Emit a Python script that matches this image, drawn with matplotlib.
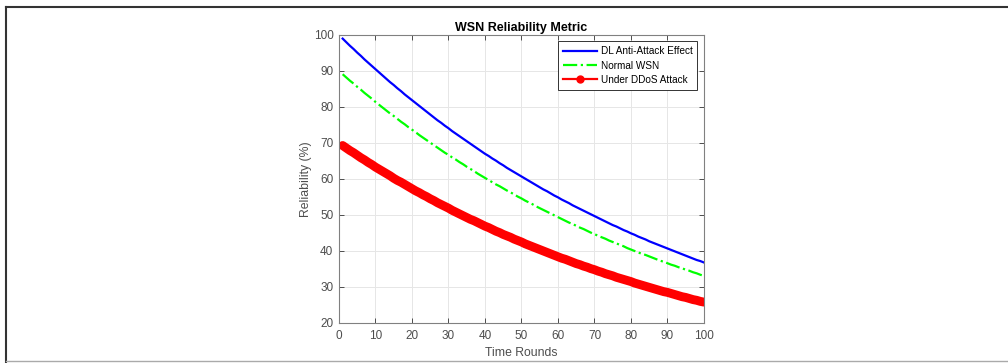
import numpy as np
import matplotlib.pyplot as plt
from matplotlib.lines import Line2D

plt.rcParams['font.family'] = ['Liberation Sans', 'DejaVu Sans']

# time rounds 1..100
rounds = np.arange(1, 101)

dl_anti = [99.0, 98.0, 97.0, 96.1, 95.1, 94.2, 93.2, 92.3, 91.4, 90.5,
           89.6, 88.7, 87.8, 86.9, 86.1, 85.2, 84.4, 83.5, 82.7, 81.9,
           81.1, 80.3, 79.5, 78.7, 77.9, 77.1, 76.3, 75.6, 74.8, 74.1,
           73.3, 72.6, 71.9, 71.2, 70.5, 69.8, 69.1, 68.4, 67.7, 67.0,
           66.4, 65.7, 65.1, 64.4, 63.8, 63.1, 62.5, 61.9, 61.3, 60.7,
           60.1, 59.5, 58.9, 58.3, 57.7, 57.1, 56.6, 56.0, 55.4, 54.9,
           54.3, 53.8, 53.3, 52.7, 52.2, 51.7, 51.2, 50.7, 50.2, 49.7,
           49.2, 48.7, 48.2, 47.7, 47.2, 46.8, 46.3, 45.8, 45.4, 44.9,
           44.5, 44.0, 43.6, 43.2, 42.7, 42.3, 41.9, 41.5, 41.1, 40.7,
           40.3, 39.9, 39.5, 39.1, 38.7, 38.3, 37.9, 37.5, 37.2, 36.8]

normal_wsn = [89.1, 88.2, 87.3, 86.5, 85.6, 84.8, 83.9, 83.1, 82.3, 81.4,
              80.6, 79.8, 79.0, 78.2, 77.5, 76.7, 75.9, 75.2, 74.4, 73.7,
              73.0, 72.2, 71.5, 70.8, 70.1, 69.4, 68.7, 68.0, 67.3, 66.7,
              66.0, 65.4, 64.7, 64.1, 63.4, 62.8, 62.2, 61.5, 60.9, 60.3,
              59.7, 59.1, 58.5, 58.0, 57.4, 56.8, 56.3, 55.7, 55.1, 54.6,
              54.0, 53.5, 53.0, 52.4, 51.9, 51.4, 50.9, 50.4, 49.9, 49.4,
              48.9, 48.4, 47.9, 47.5, 47.0, 46.5, 46.1, 45.6, 45.1, 44.7,
              44.2, 43.8, 43.4, 42.9, 42.5, 42.1, 41.7, 41.3, 40.8, 40.4,
              40.0, 39.6, 39.2, 38.9, 38.5, 38.1, 37.7, 37.3, 37.0, 36.6,
              36.2, 35.9, 35.5, 35.2, 34.8, 34.5, 34.1, 33.8, 33.4, 33.1]

under_ddos = [69.3, 68.6, 67.9, 67.3, 66.6, 65.9, 65.3, 64.6, 64.0, 63.3,
              62.7, 62.1, 61.5, 60.9, 60.2, 59.6, 59.1, 58.5, 57.9, 57.3,
              56.7, 56.2, 55.6, 55.1, 54.5, 54.0, 53.4, 52.9, 52.4, 51.9,
              51.3, 50.8, 50.3, 49.8, 49.3, 48.8, 48.4, 47.9, 47.4, 46.9,
              46.5, 46.0, 45.5, 45.1, 44.6, 44.2, 43.8, 43.3, 42.9, 42.5,
              42.0, 41.6, 41.2, 40.8, 40.4, 40.0, 39.6, 39.2, 38.8, 38.4,
              38.0, 37.7, 37.3, 36.9, 36.5, 36.2, 35.8, 35.5, 35.1, 34.8,
              34.4, 34.1, 33.7, 33.4, 33.1, 32.7, 32.4, 32.1, 31.8, 31.5,
              31.1, 30.8, 30.5, 30.2, 29.9, 29.6, 29.3, 29.0, 28.7, 28.5,
              28.2, 27.9, 27.6, 27.3, 27.1, 26.8, 26.5, 26.3, 26.0, 25.8]

xticks = np.arange(0, 101, 10)
yticks = np.arange(20, 101, 10)

fig = plt.figure(figsize=(10.08, 3.63), dpi=100)
ax = fig.add_axes([0.3363, 0.1102, 0.3621, 0.7934])

ax.plot(rounds, dl_anti, color='#0000ff', lw=1.6, label='DL Anti-Attack Effect')
ax.plot(rounds, normal_wsn, color='#00ff00', lw=1.6, ls='-.', label='Normal WSN')
# dense markers merge into a thick band; draw the band as a wide round-capped line
ax.plot(rounds, under_ddos, color='#ff0000', lw=6.4, solid_capstyle='round',
        solid_joinstyle='round')
ax.plot([], [], color='#ff0000', lw=1.6, marker='o', ms=5,
        label='Under DDoS Attack')

ax.set_xlim(0, 100)
ax.set_ylim(20, 100)
ax.set_xticks(xticks)
ax.set_yticks(yticks)
ax.grid(True, color='#e6e6e6', lw=0.7)
ax.set_axisbelow(True)
ax.tick_params(direction='in', top=True, right=True, length=3.5,
               labelsize=8.5, colors='#4d4d4d', width=0.7)
ax.tick_params(axis='x', pad=5)
ax.tick_params(axis='y', pad=4)
for s in ax.spines.values():
    s.set_color('#808080')
    s.set_linewidth(0.8)

ax.set_title('WSN Reliability Metric', fontsize=9, fontweight='bold', pad=3)
ax.set_xlabel('Time Rounds', fontsize=8.8, color='#4d4d4d', labelpad=4)
ax.set_ylabel('Reliability (%)', fontsize=8.8, color='#4d4d4d', labelpad=1)

leg = ax.legend(loc='upper right', fontsize=7.2, handlelength=3.4,
                handletextpad=0.4, borderpad=0.5, labelspacing=0.42,
                fancybox=False, framealpha=1, borderaxespad=0.65)
leg.get_frame().set_edgecolor('#333333')
leg.get_frame().set_linewidth(0.7)

# outer screenshot frame
fig.add_artist(Line2D([0.0055, 1.0], [0.981, 0.981], color='#333333', lw=1.5,
                      transform=fig.transFigure))
fig.add_artist(Line2D([0.006, 0.006], [0.0, 0.981], color='#333333', lw=1.5,
                      transform=fig.transFigure))
fig.add_artist(Line2D([0.006, 1.0], [0.005, 0.005], color='#aaaaaa', lw=1.0,
                      transform=fig.transFigure))

fig.savefig('out.png', dpi=100)
